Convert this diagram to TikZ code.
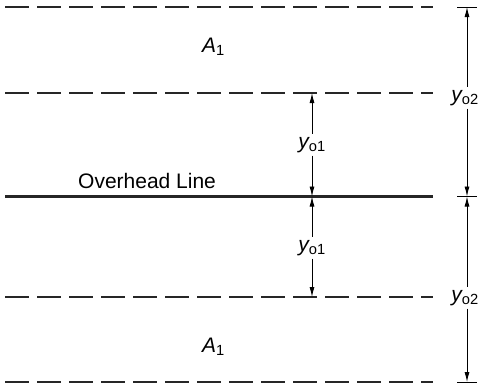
\documentclass[tikz,border=0pt]{standalone}
\usepackage{fontspec}
\setmainfont{Liberation Sans}
\usetikzlibrary{arrows.meta}
\tikzset{
  bound/.style={line width=1.4pt, dash pattern=on 24pt off 8pt, color=black!85},
  wire/.style={line width=3.8pt, color=black!85},
  dim/.style={line width=0.9pt, -{Latex[length=10pt,width=5pt]}},
  tick/.style={line width=0.9pt},
  lbl/.style={font=\fontsize{21}{24}\selectfont, inner sep=0pt},
  dlbl/.style={font=\fontsize{21}{24}\selectfont, inner sep=3pt, anchor=base}
}
\begin{document}
\begin{tikzpicture}[x=1pt,y=-1pt]
\useasboundingbox (0,0) rectangle (482,389);
% boundary lines
\coordinate (l1a) at (5,7);   \coordinate (l1b) at (433,7);
\coordinate (l2a) at (5,93);  \coordinate (l2b) at (433,93);
\coordinate (l3a) at (5,297); \coordinate (l3b) at (433,297);
\coordinate (l4a) at (5,382); \coordinate (l4b) at (433,382);
\draw[bound] (l1a) -- (l1b);
\draw[bound] (l2a) -- (l2b);
\draw[bound] (l3a) -- (l3b);
\draw[bound] (l4a) -- (l4b);
% overhead line
\coordinate (wa) at (5,196.5); \coordinate (wb) at (433,196.5);
\draw[wire] (wa) -- (wb);
\node[lbl, anchor=base west] (ohl) at (78,188) {Overhead Line};
% areas
\node[lbl, anchor=base west] (a1t) at (202,52) {\itshape A\textsubscript{\upshape 1}};
\node[lbl, anchor=base west] (a1b) at (202,352) {\itshape A\textsubscript{\upshape 1}};
% middle dimensions
\coordinate (m1) at (312,93);
\coordinate (m2) at (312,196.5);
\coordinate (m3) at (312,297);
\node[dlbl] (yo1t) at (312,148) {\itshape y\textsubscript{\upshape o1}};
\node[dlbl] (yo1b) at (312,251) {\itshape y\textsubscript{\upshape o1}};
\draw[dim] (yo1t.north) -- (m1);
\draw[dim] (yo1t.south) -- (m2);
\draw[dim] (yo1b.north) -- (m2);
\draw[dim] (yo1b.south) -- (m3);
% right dimensions
\coordinate (r1) at (467,7);
\coordinate (r2) at (467,196.5);
\coordinate (r3) at (467,382);
\coordinate (t1a) at (457,7);     \coordinate (t1b) at (477,7);
\coordinate (t2a) at (457,196.5); \coordinate (t2b) at (477,196.5);
\coordinate (t3a) at (457,382);   \coordinate (t3b) at (477,382);
\draw[tick] (t1a) -- (t1b);
\draw[tick] (t2a) -- (t2b);
\draw[tick] (t3a) -- (t3b);
\node[dlbl] (yo2t) at (465,101) {\itshape y\textsubscript{\upshape o2}};
\node[dlbl] (yo2b) at (465,301) {\itshape y\textsubscript{\upshape o2}};
\draw[dim] (yo2t.north -| r1) -- (r1);
\draw[dim] (yo2t.south -| r1) -- (r2);
\draw[dim] (yo2b.north -| r1) -- (r2);
\draw[dim] (yo2b.south -| r1) -- (r3);
\end{tikzpicture}
\end{document}
